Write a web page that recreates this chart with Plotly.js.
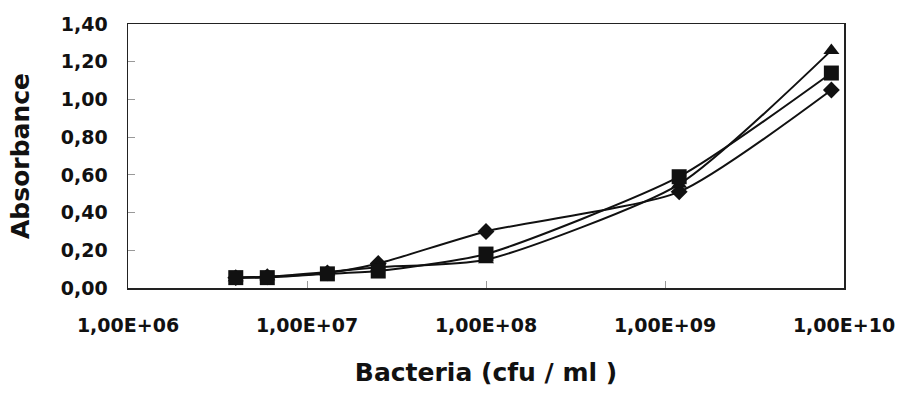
<!DOCTYPE html>
<html><head><meta charset="utf-8">
<script src="https://cdn.plot.ly/plotly-3.0.1.min.js"></script>
<style>html,body{margin:0;padding:0;background:#fff}#chart{width:906px;height:396px}</style>
</head><body><div id="chart"></div>
<script>
var bacteria = [4.0e6, 6.0e6, 1.3e7, 2.5e7, 1.0e8, 1.2e9, 8.5e9];
var seriesDiamond = [0.055, 0.06, 0.08, 0.13, 0.30, 0.51, 1.05];
var seriesSquare = [0.055, 0.055, 0.075, 0.09, 0.18, 0.59, 1.14];
var seriesTriangle = [0.055, 0.06, 0.085, 0.11, 0.15, 0.55, 1.26];
var xTickVals = [1e6, 1e7, 1e8, 1e9, 1e10];
var xTickText = ['1,00E+06', '1,00E+07', '1,00E+08', '1,00E+09', '1,00E+10'];
var yTickVals = [0, 0.2, 0.4, 0.6, 0.8, 1.0, 1.2, 1.4];

function tr(y, sym, size) {
  return {x: bacteria, y: y, type: 'scatter', mode: 'lines+markers',
    line: {color: '#111', width: 2, shape: 'spline', smoothing: 0.6},
    marker: {symbol: sym, size: size, color: '#111'}, showlegend: false, cliponaxis: false};
}
var data = [tr(seriesDiamond, 'diamond', 13), tr(seriesTriangle, 'triangle-up', 14), tr(seriesSquare, 'square', 15)];
var font = {family: 'DejaVu Sans', size: 19, color: '#111', weight: 'bold'};
var layout = {
  width: 906, height: 396,
  margin: {l: 128, r: 62, t: 24, b: 108},
  paper_bgcolor: '#fff', plot_bgcolor: '#fff',
  separators: ', ',
  font: font,
  xaxis: {type: 'log', range: [6, 10], tickvals: xTickVals, ticktext: xTickText,
    showgrid: false, zeroline: false, showline: true, linecolor: '#222', linewidth: 1.5, mirror: true,
    ticks: 'inside', ticklen: 7, tickcolor: '#999', tickfont: font, ticklabelstandoff: 20,
    title: {text: 'Bacteria (cfu / ml )', font: {family: 'DejaVu Sans', size: 25, color: '#111', weight: 'bold'}, standoff: 28},
    automargin: false},
  yaxis: {range: [0, 1.4], tickvals: yTickVals, tickformat: '.2f',
    showgrid: false, zeroline: false, showline: true, linecolor: '#222', linewidth: 1.5, mirror: true,
    ticks: 'inside', ticklen: 7, tickcolor: '#999', tickfont: font, ticklabelstandoff: 15,
    title: {text: 'Absorbance', font: {family: 'DejaVu Sans', size: 25, color: '#111', weight: 'bold'}, standoff: 24},
    automargin: false}
};
Plotly.newPlot('chart', data, layout, {staticPlot: true});
</script></body></html>
